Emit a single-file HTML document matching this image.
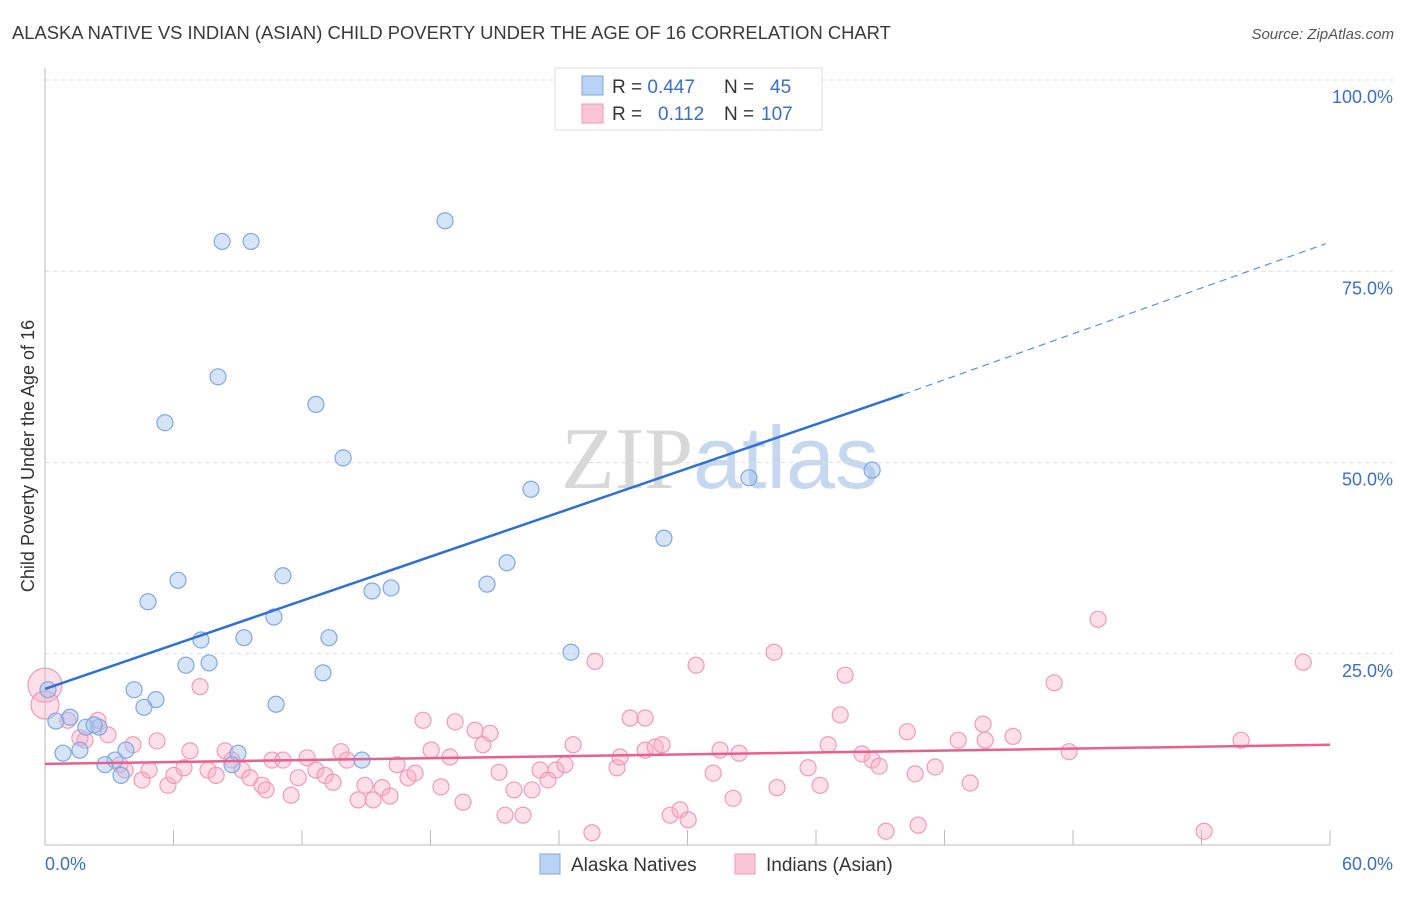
<!DOCTYPE html>
<html><head><meta charset="utf-8"><style>
body{margin:0;background:#fff;font-family:"Liberation Sans",sans-serif}
svg text{font-family:"Liberation Sans",sans-serif}
</style></head><body>
<svg id="chart" width="1406" height="892">
<text x="12" y="39" font-size="18.4" fill="#3a3a3a">ALASKA NATIVE VS INDIAN (ASIAN) CHILD POVERTY UNDER THE AGE OF 16 CORRELATION CHART</text>
<text x="1394" y="39" font-size="15" fill="#555" text-anchor="end" font-style="italic">Source: ZipAtlas.com</text>
<text x="720" y="488" font-size="88" text-anchor="middle"><tspan fill="#d8d8d8" font-family="Liberation Serif">ZIP</tspan><tspan fill="#c6d8f0">atlas</tspan></text>
<g id="grid"></g>
<g id="axes"></g>
<g id="pts"></g>
<g id="trend"></g>
<text transform="translate(34,456) rotate(-90)" font-size="18" fill="#333" text-anchor="middle">Child Poverty Under the Age of 16</text>
<g>
<rect x="555" y="68" width="267" height="62" fill="#fff" stroke="#ddd"/>
<rect x="582" y="76" width="21" height="19" fill="#b8d3f5" stroke="#7fa8e0"/>
<rect x="582" y="104" width="21" height="19" fill="#fac5d6" stroke="#f09ab8"/>
<text x="612" y="93" font-size="19" fill="#333">R = <tspan fill="#3a6fc4">0.447</tspan><tspan x="724">N = </tspan><tspan x="770" fill="#3a6fc4">45</tspan></text>
<text x="612" y="120" font-size="19" fill="#333">R = <tspan x="658" fill="#3a6fc4">0.112</tspan><tspan x="724">N = </tspan><tspan x="761" fill="#3a6fc4">107</tspan></text>
</g>
<g>
<rect x="540" y="854" width="20" height="20" fill="#b8d3f5" stroke="#7fa8e0"/>
<text x="571" y="871" font-size="19" fill="#333">Alaska Natives</text>
<rect x="735" y="854" width="20" height="20" fill="#fac5d6" stroke="#f09ab8"/>
<text x="766" y="871" font-size="19" fill="#333">Indians (Asian)</text>
</g>
</svg>
<script>
const blueX=[8.27,9.62,18.68,8.08,5.60,12.65,13.92,22.69,32.87,38.62,28.90,21.57,6.21,11.11,4.81,15.27,16.16,20.64,10.69,7.28,9.29,13.26,6.58,7.66,12.98,24.56,4.16,5.18,4.62,10.79,0.14,0.51,1.17,1.91,2.52,2.29,3.78,3.27,2.80,3.55,0.84,1.63,9.01,8.73,14.80];
const blueY=[78.9,78.9,81.6,61.2,55.2,57.6,50.6,46.5,48.0,49.0,40.1,36.9,34.6,35.2,31.8,33.2,33.6,34.1,29.8,26.8,27.1,27.1,23.5,23.8,22.5,25.2,20.3,19.0,18.0,18.4,20.3,16.2,16.7,15.4,15.4,15.7,12.4,11.1,10.5,9.1,12.0,12.4,12.0,10.5,11.1];
const pinkX=[0,0,1.07,1.63,1.87,2.47,2.94,4.11,5.23,6.77,7.24,8.41,8.73,3.50,3.74,4.53,4.86,5.74,6.02,6.49,7.61,7.99,9.20,9.57,10.13,10.32,10.60,11.11,11.49,11.82,12.24,12.65,13.08,13.45,13.82,14.10,14.62,14.94,15.32,15.74,16.11,16.44,16.95,17.28,17.65,18.03,18.49,18.91,19.15,19.52,20.08,20.45,20.78,21.20,21.48,21.90,22.32,22.74,23.12,23.49,23.86,24.28,24.66,25.54,25.68,26.71,26.85,27.32,28.02,28.02,28.49,28.81,29.19,29.65,30.03,30.40,31.20,31.52,32.13,32.41,34.18,34.04,35.63,36.19,36.57,37.13,37.36,38.15,38.62,38.95,39.27,40.26,40.63,40.77,41.56,43.20,42.64,43.80,43.90,45.20,47.12,47.82,49.17,54.12,55.85,58.75];
const pinkY=[20.9,18.3,16.3,14.0,13.7,16.3,14.4,13.1,13.6,12.3,20.7,12.3,11.1,10.5,9.8,8.5,9.8,7.8,9.1,10.1,9.8,9.1,9.8,8.8,7.8,7.2,11.1,11.1,6.5,8.8,11.4,9.8,9.1,8.2,12.2,11.1,5.9,7.8,5.9,7.5,6.4,10.5,8.8,9.4,16.3,12.4,7.6,11.5,16.1,5.6,15.0,13.1,14.6,9.5,3.9,7.2,3.9,7.2,9.8,8.5,9.8,10.5,13.1,1.6,24.0,10.1,11.5,16.6,16.6,12.4,12.8,13.1,3.9,4.6,3.3,23.5,9.4,12.4,6.1,12.0,7.5,25.2,10.1,7.8,13.1,17.0,22.2,11.9,11.1,10.3,1.8,14.8,9.3,2.6,10.2,8.1,13.7,15.8,13.7,14.2,21.2,12.2,29.5,1.8,13.7,23.9];
const pinkR=[17,14];
const yTicks=[25,50,75,100];
const blueTrend=[20.4,58.9,78.6];
const pinkTrend=[10.6,13.1];
const NS="http://www.w3.org/2000/svg";
const sx=v=>45+v/60*1285, sy=v=>845-v/100*765;
function mk(tag,attrs,parent){const e=document.createElementNS(NS,tag);for(const k in attrs)e.setAttribute(k,attrs[k]);document.getElementById(parent).appendChild(e);return e;}
yTicks.forEach(t=>{
 const l=mk('line',{x1:45,x2:1395,y1:sy(t),y2:sy(t),stroke:'#ddd','stroke-dasharray':'4,4'},'grid');
 
 
 const tx=mk('text',{x:1393,y:sy(t)+23,'font-size':18,fill:'#3a6fc4','text-anchor':'end'},'grid');
 tx.textContent=t.toFixed(1)+'%';
 
 
});
let a=mk('line',{x1:45,x2:45,y1:68,y2:845,stroke:'#bbb'},'axes');


a=mk('line',{x1:45,x2:1330,y1:845,y2:845,stroke:'#bbb'},'axes');


for(let i=0;i<=10;i++){const t=mk('line',{x1:sx(i*6),x2:sx(i*6),y1:830,y2:845,stroke:'#bbb'},'axes');
 
 }
[['0.0%',45,'start'],['60.0%',1393,'end']].forEach(d=>{const t=mk('text',{x:d[1],y:870,'font-size':18,fill:'#3a6fc4','text-anchor':d[2]},'axes');t.textContent=d[0];
 
 });
pinkX.forEach((x,i)=>{const c=mk('circle',{cx:sx(x),cy:sy(pinkY[i]),r:pinkR[i]||8,fill:'rgba(246,170,196,0.38)',stroke:'#f09ab8','stroke-width':1.2},'pts');
 
 });
blueX.forEach((x,i)=>{const c=mk('circle',{cx:sx(x),cy:sy(blueY[i]),r:8,fill:'rgba(164,196,240,0.45)',stroke:'#7fa8e0','stroke-width':1.2},'pts');
 
 });
let t=mk('line',{x1:sx(0),y1:sy(blueTrend[0]),x2:sx(40.07),y2:sy(blueTrend[1]),stroke:'#2f6fd6','stroke-width':2.5},'trend');


t=mk('line',{x1:sx(40.07),y1:sy(blueTrend[1]),x2:sx(59.8),y2:sy(blueTrend[2]),stroke:'#5b8fe0','stroke-width':1.2,'stroke-dasharray':'7,5'},'trend');


t=mk('line',{x1:sx(0),y1:sy(pinkTrend[0]),x2:sx(60),y2:sy(pinkTrend[1]),stroke:'#e8608e','stroke-width':2.5},'trend');


</script>
</body></html>
